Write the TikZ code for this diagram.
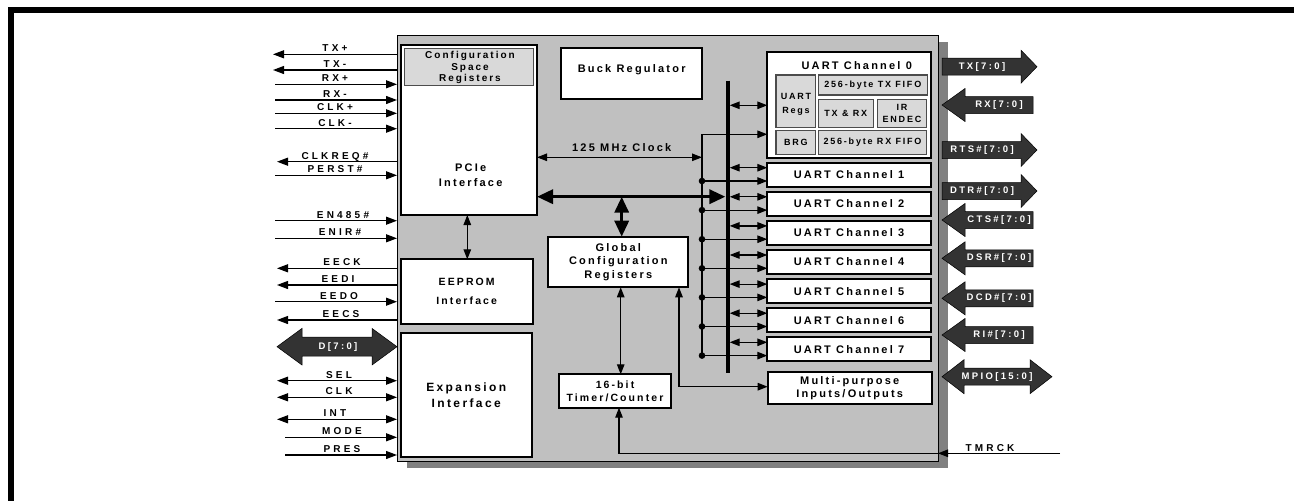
\documentclass[tikz,border=0pt]{standalone}
\usepackage{fontspec}
\setmainfont{Liberation Sans}
\newfontfamily\fa{Liberation Sans}[LetterSpace=20]
\newfontfamily\fb{Liberation Sans}[LetterSpace=32]
\newfontfamily\fc{Liberation Sans}[LetterSpace=25]
\usetikzlibrary{arrows.meta,calc}
\definecolor{chipgray}{HTML}{C0C0C0}
\definecolor{shadowgray}{HTML}{808080}
\definecolor{boxgray}{HTML}{D9D9D9}
\definecolor{darkfill}{HTML}{333333}
\newcommand\mkRarrow[3]{%
  \filldraw[darkfill, draw=black, line width=0.5pt] (942,#2-8.5) -- (1021,#2-8.5) -- (1021,#2-16.5) -- (1037,#2) -- (1021,#2+16.5) -- (1021,#2+8.5) -- (942,#2+8.5) -- cycle;
  \node[alab] (#1) at (982,#2) {#3};}
\newcommand\mkLarrow[3]{%
  \filldraw[darkfill, draw=black, line width=0.5pt] (1033,#2-8.5) -- (965,#2-8.5) -- (965,#2-16.5) -- (942,#2) -- (965,#2+16.5) -- (965,#2+8.5) -- (1033,#2+8.5) -- cycle;
  \node[alab] (#1) at (999,#2) {#3};}
\begin{document}
\begin{tikzpicture}[x=1pt,y=-1pt,
  every node/.style={inner sep=0pt, outer sep=0pt},
  wbox/.style={draw=black, fill=white, line width=1.8pt, anchor=north west, align=center},
  gbox/.style={draw=black!70, fill=boxgray, line width=1.1pt, anchor=north west, align=center},
  wire/.style={line width=1.2pt, black},
  wout/.style={wire, -{Triangle[length=10pt,width=7.5pt]}},
  wboth/.style={wire, {Triangle[length=10pt,width=7.5pt]}-{Triangle[length=10pt,width=7.5pt]}},
  pinout/.style={wire, {Triangle[length=11pt,width=8pt]}-},
  pinin/.style={wire, -{Triangle[length=11pt,width=8pt]}},
  pinboth/.style={wire, {Triangle[length=11pt,width=8pt]}-{Triangle[length=11pt,width=8pt]}},
  fatboth/.style={line width=3.3pt, {Triangle[length=16pt,width=14pt]}-{Triangle[length=16pt,width=14pt]}},
  pinlab/.style={font=\fb\bfseries\fontsize{10}{12}\selectfont, anchor=base},
  alab/.style={font=\fc\bfseries\fontsize{9.5}{11}\selectfont, text=white},
  f11/.style={font=\fa\bfseries\fontsize{11}{13.7}\selectfont, align=center},
  f12/.style={font=\fa\bfseries\fontsize{12}{16}\selectfont, align=center},
  f10/.style={font=\fa\bfseries\fontsize{10}{11.5}\selectfont, align=center},
  f9/.style={font=\fa\bfseries\fontsize{9}{11.7}\selectfont, align=center}
]
\useasboundingbox (0,0) rectangle (1294,501);
% frame bars
\fill[black] (8,7) rectangle (1294,13);
\fill[black] (8,7) rectangle (14,501);
% chip
\fill[shadowgray] (407,42) rectangle (948,468);
\node[draw=black, fill=chipgray, line width=0.8pt, anchor=north west, minimum width=541, minimum height=426] (chip) at (397,35) {};

% left blocks
\node[wbox, minimum width=136, minimum height=170] (pcie) at (401,45) {};
\node[gbox, minimum width=129, minimum height=37] (csr) at (404.5,48.5) {};
\node[f10] (tcsr) at (470,67.5) {Configuration\\Space\\Registers};
\node[f11, font=\fa\bfseries\fontsize{11}{15}\selectfont] (tpcie) at (470.7,175) {PCIe\\Interface};
\node[wbox, minimum width=132, minimum height=64.7, font=\fa\bfseries\fontsize{10.5}{18.7}\selectfont] (eep) at (400.7,259.3) {EEPROM\\Interface};
\node[wbox, minimum width=131, minimum height=123.4, f12] (exp) at (400.7,333.3) {Expansion\\Interface};

% middle blocks
\node[wbox, minimum width=141, minimum height=50.7] (buck) at (561,48.3) {};
\node[f11] (tbuck) at (631.7,70) {Buck Regulator};
\node[wbox, minimum width=140, minimum height=50.6, f11] (gcr) at (548.3,236.7) {Global\\Configuration\\Registers};
\node[wbox, minimum width=111.4, minimum height=33.4, font=\fa\bfseries\fontsize{10.5}{13}\selectfont] (tmr) at (559.3,374.3) {16-bit\\Timer/Counter};

% UART channel 0
\node[wbox, minimum width=163.4, minimum height=106.6] (u0) at (767.3,51.7) {};
\node[f11] (tu0) at (856.7,66) {UART Channel 0};
\node[gbox, minimum width=39.7, minimum height=52.3] (regs) at (776,75) {};
\node[f9, font=\fa\bfseries\fontsize{9}{13.7}\selectfont] (tregs) at (796,104.5) {UART\\Regs};
\node[gbox, minimum width=109, minimum height=20, f9] (txf) at (818.3,75) {256-byte TX FIFO};
\node[gbox, minimum width=55, minimum height=28, f9] (txrx) at (818.3,99.3) {TX \& RX};
\node[gbox, minimum width=49.4, minimum height=28, f9] (ir) at (877.3,99.3) {IR\\ENDEC};
\node[gbox, minimum width=39.7, minimum height=23.6, f9] (brg) at (776,130.7) {BRG};
\node[gbox, minimum width=108.4, minimum height=23.6, f9] (rxf) at (818.3,130.7) {256-byte RX FIFO};

% UART channels 1..7
\foreach \n in {1,...,7}{
  \pgfmathsetmacro\yt{162.7+(\n-1)*29.1}
  \node[wbox, minimum width=163.4, minimum height=24, f11] (u\n) at (767.3,\yt) {UART Channel \n};
}
\node[wbox, minimum width=164, minimum height=32.3, font=\fa\bfseries\fontsize{11}{12.7}\selectfont] (mpio) at (767.7,371.7) {Multi-purpose\\Inputs/Outputs};

% clock distribution line
\coordinate (ck) at (702,134.3);
\draw[wout] (ck) -- (ck -| u0.west);
\foreach \n in {1,...,7}{
  \coordinate (ub\n) at ($(u\n.north west)+(0,18.3)$);
  \draw[wout] (ck |- ub\n) -- (ub\n);
}
\draw[wire] (ck) -- (ck |- ub7);
\foreach \n in {1,...,7}{
  \fill[black] (ck |- ub\n) circle (3.3);
}
\coordinate (clk) at (620,157.3);
\draw[wboth] (clk -| pcie.east) -- (clk -| ck);
\node[f11] (tclk) at (621.7,147.7) {125 MHz Clock};

% data bus
\coordinate (bt) at (727.7,80.7);
\coordinate (bb) at (727.7,372.7);
\coordinate (ua0) at (767.3,105.3);
\draw[wboth, shorten <=2pt] (bt |- ua0) -- (ua0);
\foreach \n in {1,...,7}{
  \coordinate (ua\n) at ($(u\n.north west)+(0,5)$);
  \draw[wboth, shorten <=2pt] (bt |- ua\n) -- (ua\n);
}
\draw[line width=4pt] (bt) -- (bb);
\coordinate (hb) at (621.7,196.7);
\draw[fatboth, shorten >=2.3pt] (hb -| pcie.east) -- (hb -| bt);
\draw[fatboth] (hb) -- (hb |- gcr.north);

% other internal connections
\coordinate (pe) at (467.3,237);
\draw[wboth] (pe |- pcie.south) -- (pe |- eep.north);
\coordinate (gt) at (620.7,330);
\draw[wboth] (gt |- gcr.south) -- (gt |- tmr.north);
\coordinate (gm) at (679,386.7);
\draw[wboth] (gm |- gcr.south) -- (gm) -- (gm -| mpio.west);
\coordinate (tk) at (1060,453.3);
\coordinate (tc) at (619,453.3);
\draw[wout] (tk) -- (tk -| chip.east);
\draw[wout] (tk -| chip.east) -- (tc) -- (tc |- tmr.south);
\node[pinlab] (ltk) at (990,451) {TMRCK};

% left pins
\foreach \n/\y/\xl/\lab/\lx/\t in {
 1/54.3/273/TX+/335/out, 2/70/273/TX-/335/out, 3/84.3/275/RX+/335/in,
 4/100/275/RX-/335/in, 5/113.3/275/CLK+/335/in, 6/128.7/275/CLK-/335/in,
 7/161.7/277/CLKREQ\#/335/out, 8/175.3/275/PERST\#/335/in,
 9/220.7/275/EN485\#/343/in, 10/238.3/275/ENIR\#/340/in,
 11/268.3/277/EECK/342/out, 12/285/277/EEDI/338/out, 13/301.7/275/EEDO/339/in,
 14/320/277/EECS/341/out, 15/380.7/277/SEL/339/both, 16/397.3/277/CLK/339/both,
 17/419.3/277/INT/335/both, 18/437.3/285/MODE/342/in, 19/455/285/PRES/342/in}{
  \coordinate (pin\n) at (\xl,\y);
  \draw[pin\t] (pin\n) -- (pin\n -| chip.west);
  \node[pinlab] (lab\n) at (\lx,\y-2.5) {\lab};
}

% D[7:0]
\filldraw[darkfill, draw=black, line width=0.5pt] (277,346.7) -- (302,328.4) -- (302,337.2) -- (372,337.2) -- (372,328.4) -- (397,346.7) -- (372,365) -- (372,356.2) -- (302,356.2) -- (302,365) -- cycle;
\node[alab] (dbus) at (338,346.7) {D[7:0]};

% right side arrows
\mkRarrow{atx}{66.7}{TX[7:0]}
\mkLarrow{arx}{105}{RX[7:0]}
\mkRarrow{arts}{150}{RTS\#[7:0]}
\mkRarrow{adtr}{191}{DTR\#[7:0]}
\mkLarrow{acts}{220}{CTS\#[7:0]}
\mkLarrow{adsr}{258.3}{DSR\#[7:0]}
\mkLarrow{adcd}{298.3}{DCD\#[7:0]}
\mkLarrow{ari}{335}{RI\#[7:0]}
\filldraw[darkfill, draw=black, line width=0.5pt] (942,376.7) -- (964,359.7) -- (964,368.2) -- (1030,368.2) -- (1030,359.7) -- (1052,376.7) -- (1030,393.7) -- (1030,385.2) -- (964,385.2) -- (964,393.7) -- cycle;
\node[alab] (ampio) at (997,376.7) {MPIO[15:0]};
\end{tikzpicture}
\end{document}
